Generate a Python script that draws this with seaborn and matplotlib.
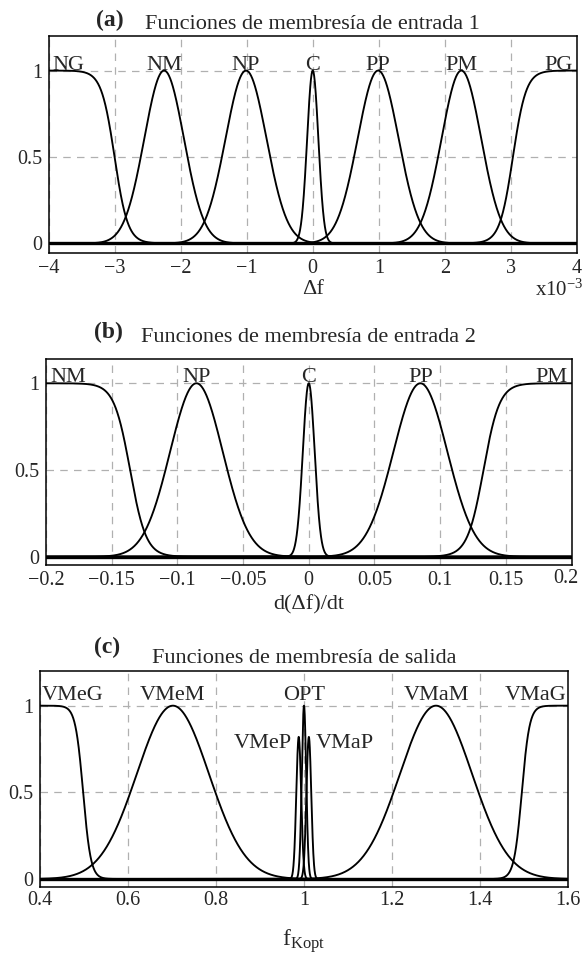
import numpy as np
import pandas as pd
import seaborn as sns
import matplotlib.pyplot as plt
from matplotlib.transforms import ScaledTranslation

sns.set_style('white')
plt.rcParams['font.family'] = ['Liberation Serif', 'DejaVu Serif']
plt.rcParams['mathtext.fontset'] = 'custom'
plt.rcParams['mathtext.rm'] = 'Liberation Serif'
plt.rcParams['mathtext.it'] = 'Liberation Serif:italic'
plt.rcParams['mathtext.bf'] = 'Liberation Serif:bold'

# (a) entrada 1 -- x in units of 1e-3
# width = sigma for gauss, slope scale for z / s sigmoids
in1_names = ['NG', 'NM', 'NP', 'C', 'PP', 'PM', 'PG']
in1_types = ['z', 'gauss', 'gauss', 'gauss', 'gauss', 'gauss', 's']
in1_center = [-3.0, -2.25, -1.01, 0.0, 0.99, 2.25, 3.03]
in1_width = [0.10, 0.30, 0.31, 0.085, 0.31, 0.30, 0.10]
in1_peak = [1, 1, 1, 1, 1, 1, 1]
in1_ticks = [-4, -3, -2, -1, 0, 1, 2, 3, 4]
in1_ticklabels = ['−4', '−3', '−2', '−1', '0', '1', '2', '3', '4']

# (b) entrada 2
in2_names = ['NM', 'NP', 'C', 'PP', 'PM']
in2_types = ['z', 'gauss', 'gauss', 'gauss', 's']
in2_center = [-0.136, -0.0855, 0.0, 0.085, 0.133]
in2_width = [0.0061, 0.020, 0.0045, 0.0205, 0.0061]
in2_peak = [1, 1, 1, 1, 1]
in2_ticks = [-0.2, -0.15, -0.1, -0.05, 0, 0.05, 0.1, 0.15, 0.2]
in2_ticklabels = ['−0.2', '−0.15', '−0.1', '−0.05', '0', '0.05', '0.1', '0.15', '0.2']

# (c) salida
out_names = ['VMeG', 'VMeM', 'VMeP', 'OPT', 'VMaP', 'VMaM', 'VMaG']
out_types = ['z', 'gauss', 'gauss', 'gauss', 'gauss', 'gauss', 's']
out_center = [0.498, 0.702, 0.988, 1.0, 1.011, 1.30, 1.495]
out_width = [0.0088, 0.082, 0.0055, 0.005, 0.0055, 0.082, 0.0088]
out_peak = [1, 1, 0.82, 1, 0.82, 1, 1]
out_ticks = [0.4, 0.6, 0.8, 1.0, 1.2, 1.4, 1.6]
out_ticklabels = ['0.4', '0.6', '0.8', '1', '1.2', '1.4', '1.6']


def mf_frame(names, types, centers, widths, peaks, lo, hi):
    x = np.linspace(lo, hi, 3001)
    parts = []
    for n, t, c, w, p in zip(names, types, centers, widths, peaks):
        if t == 'gauss':
            y = p * np.exp(-0.5 * ((x - c) / w) ** 2)
        elif t == 'z':
            y = p / (1 + np.exp((x - c) / w))
        else:
            y = p / (1 + np.exp(-(x - c) / w))
        parts.append(pd.DataFrame({'x': x, 'mu': y, 'mf': n}))
    return pd.concat(parts, ignore_index=True)


def draw_panel(ax, df, ticks, ticklabels, ylim, xpad):
    ax.set_axisbelow(True)
    ax.grid(True, color='#b0b0b0', ls=(0, (6, 5)), lw=0.9)
    sns.lineplot(data=df, x='x', y='mu', units='mf', estimator=None,
                 color='black', lw=1.35, ax=ax, legend=False)
    ax.axhline(0, color='black', lw=2.4, zorder=3)
    ax.set_xlim(ticks[0], ticks[-1])
    ax.set_ylim(*ylim)
    ax.set_xticks(ticks)
    ax.set_xticklabels(ticklabels)
    ax.set_yticks([0, 0.5, 1])
    ax.set_yticklabels(['0', '0.5', '1'])
    ax.tick_params(axis='both', length=0, labelsize=14.5)
    ax.tick_params(axis='x', pad=xpad)
    ax.tick_params(axis='y', pad=4.5)
    ax.set_ylabel('')
    for s in ax.spines.values():
        s.set_color('black')
        s.set_linewidth(1.1)


def put_labels(ax, names, types, centers, base, edge_off):
    lo, hi = ax.get_xlim()
    for n, t, c in zip(names, types, centers):
        if t == 'z':
            ax.annotate(n, (lo, base), xytext=(edge_off, 0), textcoords='offset points',
                        ha='left', va='baseline', fontsize=16)
        elif t == 's':
            ax.annotate(n, (hi, base), xytext=(-edge_off, 0), textcoords='offset points',
                        ha='right', va='baseline', fontsize=16)
        elif n == 'VMeP':
            ax.annotate(n, (c, 0.757), xytext=(-5, 0), textcoords='offset points',
                        ha='right', va='baseline', fontsize=16)
        elif n == 'VMaP':
            ax.annotate(n, (c, 0.757), xytext=(5, 0), textcoords='offset points',
                        ha='left', va='baseline', fontsize=16)
        else:
            ax.text(c, base, n, ha='center', va='baseline', fontsize=16)


fig = plt.figure(figsize=(5.83, 9.59), dpi=100)
W, H = 583.0, 959.0
ax1 = fig.add_axes([48.5 / W, 1 - 252.7 / H, (577 - 48.5) / W, (252.7 - 36) / H])
ax2 = fig.add_axes([46 / W, 1 - 565 / H, (571.5 - 46) / W, (565 - 359) / H])
ax3 = fig.add_axes([40 / W, 1 - 887.3 / H, (568 - 40) / W, (887.3 - 671) / H])

# (a)
df1 = mf_frame(in1_names, in1_types, in1_center, in1_width, in1_peak, -4, 4)
draw_panel(ax1, df1, in1_ticks, in1_ticklabels, (-0.054, 1.20), 4.3)
put_labels(ax1, in1_names, in1_types, in1_center, 1.006, 3)
ax1.set_xlabel('Δf', fontsize=16, labelpad=2)
ax1.set_title('Funciones de membresía de entrada 1', fontsize=16, pad=5)
ax1.text(0.116, 1 + 10 / 216.7, '(a)', transform=ax1.transAxes, ha='center',
         va='baseline', fontsize=17, fontweight='bold')
ax1.text(1.012, -0.172, 'x10$^{-3}$', transform=ax1.transAxes, ha='right',
         va='center', fontsize=15)

# (b)
df2 = mf_frame(in2_names, in2_types, in2_center, in2_width, in2_peak, -0.2, 0.2)
draw_panel(ax2, df2, in2_ticks, in2_ticklabels, (-0.048, 1.14), 4.3)
put_labels(ax2, in2_names, in2_types, in2_center, 1.006, 3)
ax2.set_xlabel('d(Δf)/dt', fontsize=16, labelpad=4)
ax2.set_title('Funciones de membresía de entrada 2', fontsize=16, pad=12)
ax2.text(0.118, 1 + 21 / 206, '(b)', transform=ax2.transAxes, ha='center',
         va='baseline', fontsize=17, fontweight='bold')
# last tick label sits a little inside the figure edge, as in the original
last = ax2.get_xticklabels()[-1]
last.set_transform(last.get_transform() + ScaledTranslation(-4 / 72, 1.5 / 72, fig.dpi_scale_trans))

# (c)
df3 = mf_frame(out_names, out_types, out_center, out_width, out_peak, 0.4, 1.6)
draw_panel(ax3, df3, out_ticks, out_ticklabels, (-0.048, 1.20), 2.7)
put_labels(ax3, out_names, out_types, out_center, 1.035, 1)
ax3.set_xlabel(r'$\mathrm{f}_{\mathrm{Kopt}}$', fontsize=17, labelpad=12)
ax3.set_title('Funciones de membresía de salida', fontsize=16, pad=6)
ax3.text(0.127, 1 + 18 / 216.3, '(c)', transform=ax3.transAxes, ha='center',
         va='baseline', fontsize=17, fontweight='bold')

fig.savefig('out.png', dpi=100)
